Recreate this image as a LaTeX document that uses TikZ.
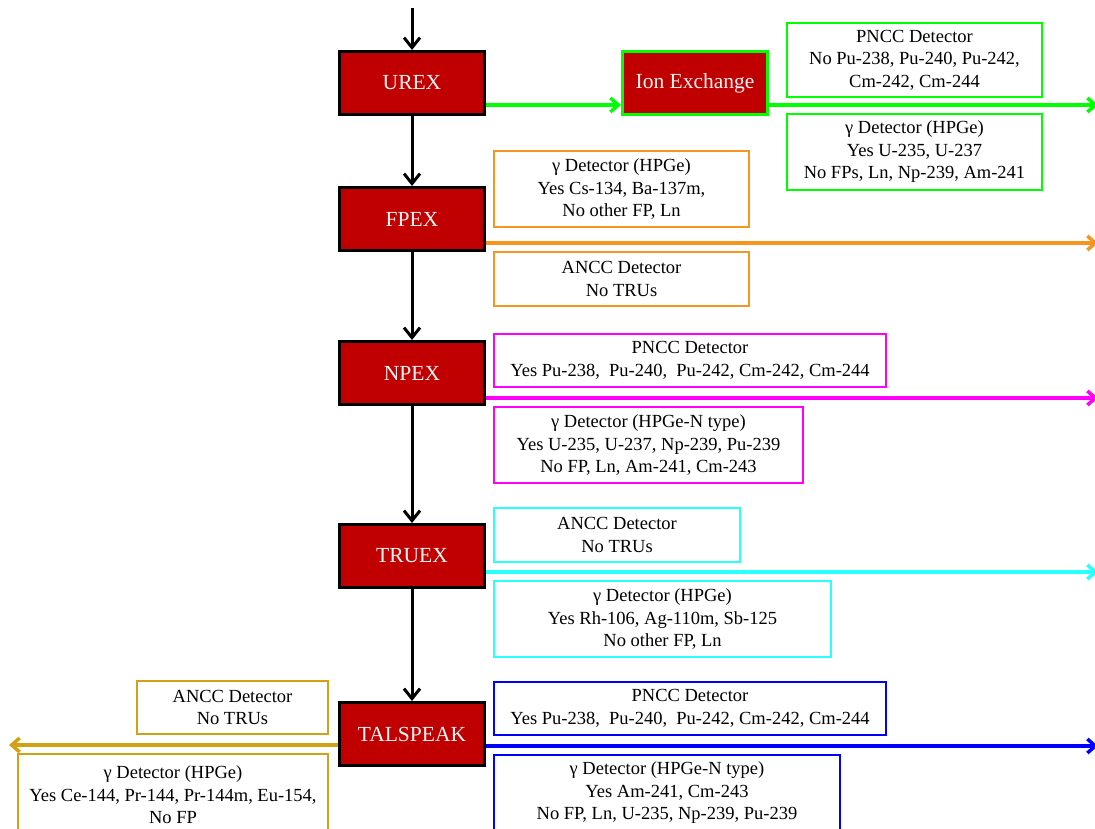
\documentclass[tikz,border=0pt]{standalone}
\usepackage{fontspec}
\setmainfont{Liberation Serif}
\usetikzlibrary{arrows.meta}
\definecolor{boxred}{RGB}{192,0,0}
\definecolor{cgreen}{RGB}{0,255,0}
\definecolor{corange}{RGB}{247,150,30}
\definecolor{cmagenta}{RGB}{255,0,255}
\definecolor{ccyan}{RGB}{40,255,255}
\definecolor{cblue}{RGB}{0,0,255}
\definecolor{cgold}{RGB}{212,160,20}
\definecolor{offwhite}{RGB}{245,245,245}
\begin{document}
\begin{tikzpicture}[x=1pt,y=-1pt,
  every node/.style={font=\fontsize{18.5}{22.5}\selectfont},
  mainbox/.style={draw=black, line width=3pt, fill=boxred, text=offwhite,
    font=\fontsize{21.5}{24}\selectfont,
    minimum width=145pt, minimum height=63pt, inner sep=0pt},
  detbox/.style={draw, line width=2pt, fill=white, align=center, inner sep=0pt},
  flow/.style={line width=3pt, -{Straight Barb[length=10pt,width=16pt]}},
  side/.style={line width=3.5pt, -{Straight Barb[length=8pt,width=14pt]}}
]
\useasboundingbox (0,0) rectangle (1095,828);

% main process boxes
\node[mainbox] (urex) at (412,83) {UREX};
\node[mainbox] (fpex) at (412,219) {FPEX};
\node[mainbox] (npex) at (412,373) {NPEX};
\node[mainbox] (truex) at (412,556) {TRUEX};
\node[mainbox] (tal) at (412,734) {TALSPEAK};
\node[mainbox, draw=cgreen] (ion) at (695,83) {Ion Exchange};

% free ends
\coordinate (top) at (412,8);
\coordinate (eU) at (1098,105);
\coordinate (eF) at (1098,243);
\coordinate (eN) at (1098,398);
\coordinate (eT) at (1098,572);
\coordinate (eB) at (1098,746);
\coordinate (eL) at (9,745);

% vertical flow
\draw[flow] (top) -- (urex.north);
\draw[flow] (urex.south) -- (fpex.north);
\draw[flow] (fpex.south) -- (npex.north);
\draw[flow] (npex.south) -- (truex.north);
\draw[flow] (truex.south) -- (tal.north);

% side streams
\draw[side, cgreen] (urex.east |- 0,105) -- (ion.west |- 0,105);
\draw[side, cgreen] (ion.east |- 0,105) -- (eU);
\draw[side, corange] (fpex.east |- 0,243) -- (eF);
\draw[side, cmagenta] (npex.east |- 0,398) -- (eN);
\draw[side, ccyan] (truex.east |- 0,572) -- (eT);
\draw[side, cblue] (tal.east |- 0,746) -- (eB);
\draw[side, cgold] (tal.west |- 0,745) -- (eL);

% detector boxes
\node[detbox, draw=cgreen, minimum width=255pt, minimum height=74pt] (g1) at (914.5,60)
  {PNCC Detector\\No Pu-238, Pu-240, Pu-242,\\Cm-242, Cm-244};
\node[detbox, draw=cgreen, minimum width=255pt, minimum height=76pt] (g2) at (914.5,152)
  {γ Detector (HPGe)\\Yes U-235, U-237\\No FPs, Ln, Np-239, Am-241};

\node[detbox, draw=corange, minimum width=255pt, minimum height=76pt] (o1) at (621.5,189)
  {γ Detector (HPGe)\\Yes Cs-134, Ba-137m,\\No other FP, Ln};
\node[detbox, draw=corange, minimum width=255pt, minimum height=54pt] (o2) at (621.5,279)
  {ANCC Detector\\No TRUs};

\node[detbox, draw=cmagenta, minimum width=392pt, minimum height=53pt] (m1) at (690,360.5)
  {PNCC Detector\\Yes Pu-238,\ \ Pu-240,\ \ Pu-242, Cm-242, Cm-244};
\node[detbox, draw=cmagenta, minimum width=309pt, minimum height=76pt] (m2) at (648.5,445)
  {γ Detector (HPGe-N type)\\Yes U-235, U-237, Np-239, Pu-239\\No FP, Ln, Am-241,\ Cm-243};

\node[detbox, draw=ccyan, minimum width=246pt, minimum height=54pt] (c1) at (617,535)
  {ANCC Detector\\No TRUs};
\node[detbox, draw=ccyan, minimum width=337pt, minimum height=76pt] (c2) at (662.5,619)
  {γ Detector (HPGe)\\Yes Rh-106, Ag-110m,\ Sb-125\\No other FP, Ln};

\node[detbox, draw=cblue, minimum width=392pt, minimum height=53pt] (b1) at (690,708.5)
  {PNCC Detector\\Yes Pu-238,\ \ Pu-240,\ \ Pu-242, Cm-242, Cm-244};
\node[detbox, draw=cblue, minimum width=346pt, minimum height=76pt] (b2) at (667,793)
  {γ Detector (HPGe-N type)\\Yes Am-241,\ Cm-243\\No FP, Ln, U-235, Np-239, Pu-239};

\node[detbox, draw=cgold, minimum width=191pt, minimum height=53pt] (y1) at (232.5,707.5)
  {ANCC Detector\\No TRUs};
\node[detbox, draw=cgold, minimum width=310pt, minimum height=82pt] (y2) at (173,795)
  {γ Detector (HPGe)\\Yes Ce-144, Pr-144, Pr-144m, Eu-154,\\No FP};
\end{tikzpicture}
\end{document}
